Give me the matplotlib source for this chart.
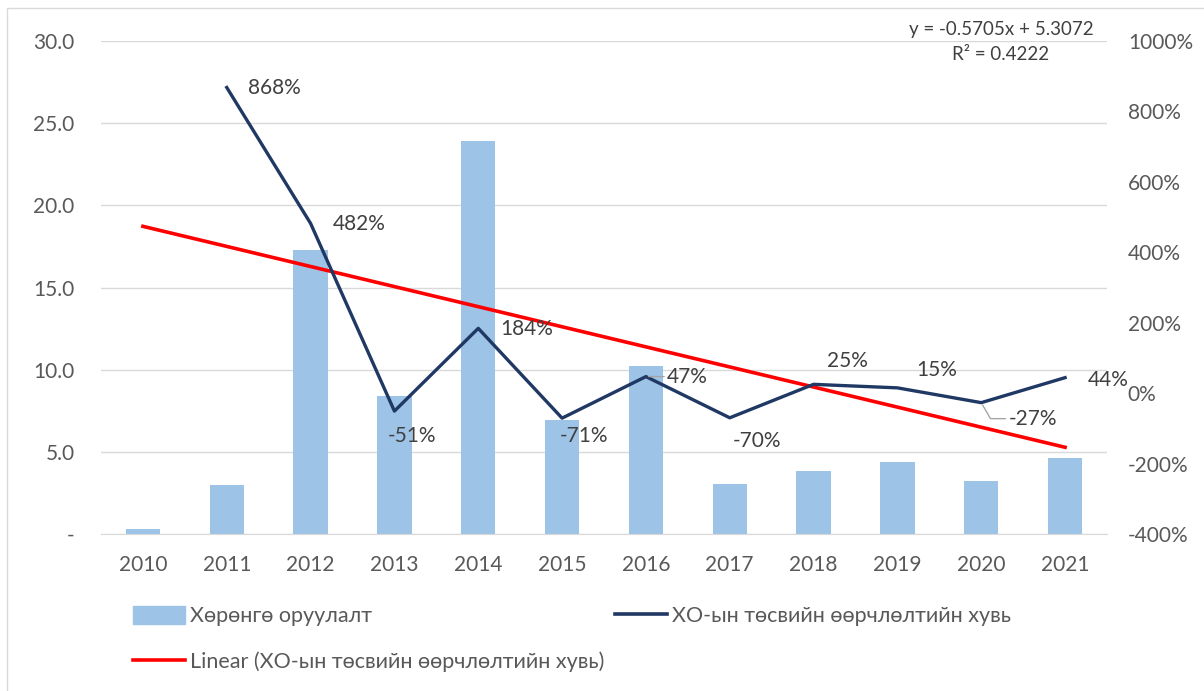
import numpy as np
import matplotlib
matplotlib.use('Agg')
from matplotlib import pyplot as plt
from matplotlib.patches import Patch, Rectangle
from matplotlib.lines import Line2D

plt.rcParams['font.family'] = ['Lato', 'DejaVu Sans']

years = ['2010', '2011', '2012', '2013', '2014', '2015',
         '2016', '2017', '2018', '2019', '2020', '2021']
invest = [0.3, 3.0, 17.3, 8.4, 23.9, 6.95, 10.2, 3.05, 3.85, 4.4, 3.2, 4.6]
# budget change, %, starts in 2011
change = [868, 482, -51, 184, -71, 47, -70, 25, 15, -27, 44]
trend_eq = 'y = -0.5705x + 5.3072'
trend_r2 = 'R² = 0.4222'

left_ticks = [0, 5, 10, 15, 20, 25, 30]
left_labels = ['-', '5.0', '10.0', '15.0', '20.0', '25.0', '30.0']
right_ticks = [-400, -200, 0, 200, 400, 600, 800, 1000]

bar_c = '#9DC3E6'
navy = '#203864'
red = '#FF0000'
txt = '#595959'
grid_c = '#D9D9D9'
fs = 15

fig = plt.figure(figsize=(12.04, 6.91), dpi=100)
ax = fig.add_axes([101/1204, 1-534/691, (1107-101)/1204, (534-41)/691])
ax2 = ax.twinx()

x = np.arange(len(years))
ax.bar(x, invest, width=0.41, color=bar_c, zorder=2)
ax.set_xlim(-0.5, len(years) - 0.5)
ax.set_ylim(0, 30)
ax.set_yticks(left_ticks)
ax.set_yticklabels(left_labels)
ax.set_xticks(x)
ax.set_xticklabels(years)
ax.grid(axis='y', color=grid_c, lw=1, zorder=0)
ax.set_axisbelow(True)
for s in ['top', 'right', 'left']:
    ax.spines[s].set_visible(False)
ax.spines['bottom'].set_color(grid_c)
ax.tick_params(axis='both', length=0, labelsize=fs, colors=txt)
ax.tick_params(axis='x', pad=15)
ax.tick_params(axis='y', pad=19)

# line + linear trend on the right axis (fit over index 2..12, drawn 1..12)
xl = x[1:]
ch = np.array(change) / 100.0
ax2.plot(xl, change, color=navy, lw=2.4, zorder=4)
k, b = np.polyfit(xl + 1, ch, 1)
ax2.plot(x, (k * (x + 1) + b) * 100, color=red, lw=2.6, zorder=3)
ax2.set_ylim(-400, 1000)
ax2.set_yticks(right_ticks)
ax2.set_yticklabels(['%d%%' % t for t in right_ticks])
for s in ['top', 'right', 'left', 'bottom']:
    ax2.spines[s].set_visible(False)
ax2.tick_params(axis='y', length=0, labelsize=fs, colors=txt, pad=15)

# data labels
offsets = [(21, -1), (22, -1), (-7, -25), (22, -1), (-2, -18), (21, 0),
           (3, -23), (13, 23), (19, 18), (27, -16), (23, -2)]
for i, (xi, v) in enumerate(zip(xl, change)):
    kw = {}
    if v == 47:
        kw['arrowprops'] = dict(arrowstyle='-', color='#A6A6A6', lw=1,
                                shrinkA=0, shrinkB=2)
    if v == -27:
        kw['arrowprops'] = dict(arrowstyle='-', color='#A6A6A6', lw=1,
                                shrinkA=0, shrinkB=2,
                                connectionstyle='angle,angleA=0,angleB=-60,rad=0')
    ax2.annotate('%d%%' % v, (xi, v), xytext=offsets[i], textcoords='offset pixels',
                 ha='left', va='center', fontsize=fs, color='#404040', zorder=5, **kw)

fig.text(1001/1204, 1-30/691, trend_eq, ha='center', va='center',
         fontsize=13.5, color='#404040')
fig.text(1001/1204, 1-55/691, trend_r2, ha='center', va='center',
         fontsize=13.5, color='#404040')

# legend
legs = [
    (Patch(color=bar_c), 'Хөрөнгө оруулалт', 133, 616),
    (Line2D([], [], color=navy, lw=2.6), 'ХО-ын төсвийн өөрчлөлтийн хувь', 615, 616),
    (Line2D([], [], color=red, lw=2.6), 'Linear (ХО-ын төсвийн өөрчлөлтийн хувь)', 133, 662),
]
for h, lab, px, py in legs:
    lg = fig.legend([h], [lab], loc='center left', bbox_to_anchor=(px/1204, 1-py/691),
                    frameon=False, fontsize=15.5, handlelength=2.4, handleheight=0.9,
                    handletextpad=0.25, borderpad=0, borderaxespad=0)
    for t in lg.get_texts():
        t.set_color(txt)

fig.patches.append(Rectangle((7/1204, -0.01), 1.02, 1-8/691+0.01, transform=fig.transFigure,
                             fill=False, edgecolor='#D9D9D9', lw=1))

fig.savefig('out.png', dpi=100)
